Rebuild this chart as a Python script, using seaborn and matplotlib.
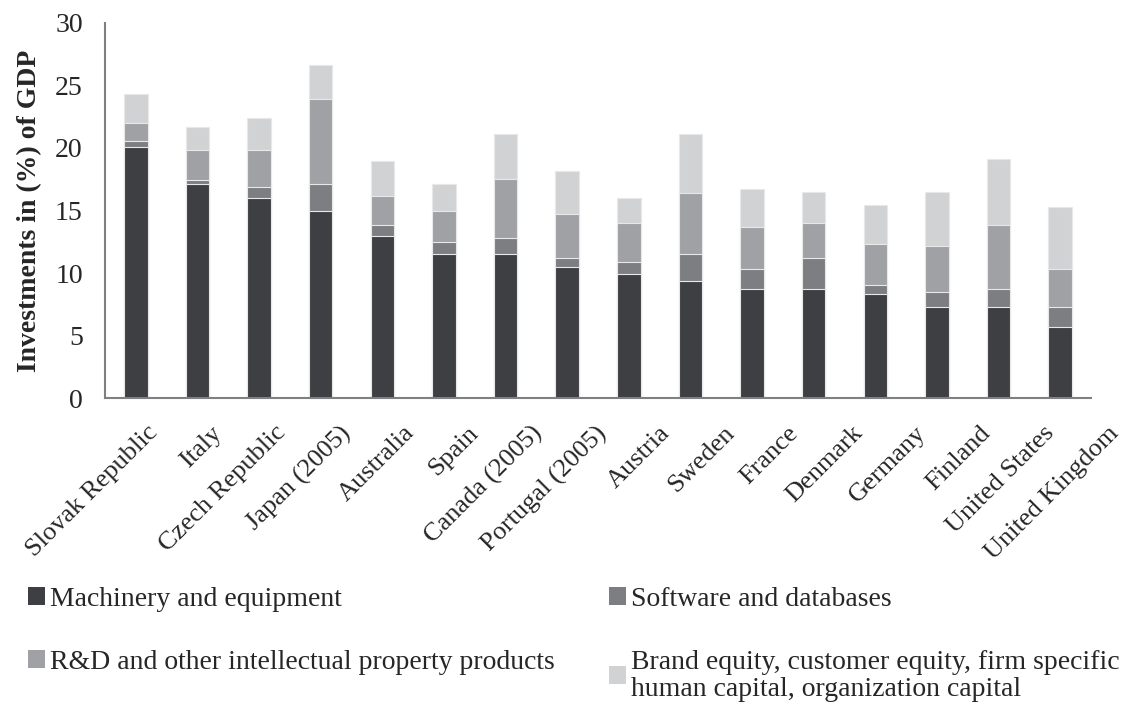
import matplotlib
matplotlib.use("Agg")
import matplotlib.pyplot as plt
import matplotlib.transforms as mtransforms
import seaborn as sns
import numpy as np
import pandas as pd

# ── Data ────────────────────────────────────────────────
countries = ["Slovak Republic", "Italy", "Czech Republic", "Japan (2005)", "Australia",
             "Spain", "Canada (2005)", "Portugal (2005)", "Austria", "Sweden", "France",
             "Denmark", "Germany", "Finland", "United States", "United Kingdom"]
machinery = [20.1, 17.1, 16.0, 15.0, 13.0, 11.5, 11.5, 10.5, 9.9, 9.4, 8.7, 8.7, 8.3, 7.3, 7.3, 5.7]
software  = [0.45, 0.35, 0.9, 2.1, 0.85, 1.0, 1.3, 0.7, 1.0, 2.1, 1.6, 2.5, 0.75, 1.15, 1.45, 1.6]
rnd       = [1.45, 2.35, 2.9, 6.8, 2.3, 2.5, 4.7, 3.5, 3.1, 4.9, 3.35, 2.8, 3.3, 3.75, 5.1, 3.05]
brand     = [2.3, 1.9, 2.6, 2.75, 2.8, 2.1, 3.6, 3.5, 2.0, 4.7, 3.1, 2.45, 3.1, 4.25, 5.25, 4.95]

labels = ["Machinery and equipment", "Software and databases",
          "R&D and other intellectual property products",
          "Brand equity, customer equity, firm specific\nhuman capital, organization capital"]
colors = ["#3e3f43", "#7d7e82", "#9fa1a5", "#d1d2d4"]

df = pd.DataFrame({"Country": countries, "M": machinery, "S": software, "R": rnd, "B": brand})
df["c1"] = df["M"]
df["c2"] = df["c1"] + df["S"]
df["c3"] = df["c2"] + df["R"]
df["c4"] = df["c3"] + df["B"]

sns.set_theme(style="white")
plt.rcParams["font.family"] = ["Liberation Serif", "DejaVu Serif"]

fig = plt.figure(figsize=(11.38, 7.07), dpi=100)
ax = fig.add_axes([0.0923, 0.437, 0.8664, 0.5305])

# stacked look: draw cumulative totals, tallest first
for col, color, lab in zip(["c4", "c3", "c2", "c1"], colors[::-1], labels[::-1]):
    sns.barplot(data=df, x="Country", y=col, color=color, width=0.38,
                edgecolor="#e8e8e8", linewidth=0.8, ax=ax, label=lab, saturation=1)

ax.set_ylim(0, 30)
ax.set_yticks(range(0, 31, 5))
ax.set_xlim(-0.5, len(countries) - 0.5)
ax.set_xlabel("")
ax.set_ylabel("Investments in (%) of GDP", fontsize=20, fontweight="bold", labelpad=9.5)
ax.tick_params(axis="y", labelsize=20, length=0, pad=16)
ax.tick_params(axis="x", labelsize=19, length=0, pad=2)
for i, t in enumerate(ax.get_xticklabels()):
    t.set_rotation(45)
    t.set_ha("right")
    t.set_va("top")
    t.set_rotation_mode("anchor")
    offset = mtransforms.ScaledTranslation((11 + 2.4 * i) / 100, -0.21, fig.dpi_scale_trans)
    t.set_transform(t.get_transform() + offset)

sns.despine(ax=ax)
for s in ["left", "bottom"]:
    ax.spines[s].set_color("#808080")
    ax.spines[s].set_linewidth(1.5)

handles, labs = ax.get_legend_handles_labels()
ax.get_legend().remove()
# column-wise fill -> rows: Machinery/Software, R&D/Brand
order = [labs.index(labels[k]) for k in [0, 2, 1, 3]]
leg = fig.legend([handles[i] for i in order], [labs[i] for i in order],
                 loc="upper left", bbox_to_anchor=(28 / 1138, 0.1695), ncol=2,
                 frameon=False, fontsize=20, handlelength=0.61, handleheight=0.61,
                 handletextpad=0.18, columnspacing=1.95, labelspacing=1.35,
                 borderpad=0, borderaxespad=0)
for t in leg.get_texts():
    t.set_linespacing(1.1)
for h in leg.legend_handles:
    h.set_edgecolor("none")

plt.savefig("out.png", dpi=100)
plt.close()
